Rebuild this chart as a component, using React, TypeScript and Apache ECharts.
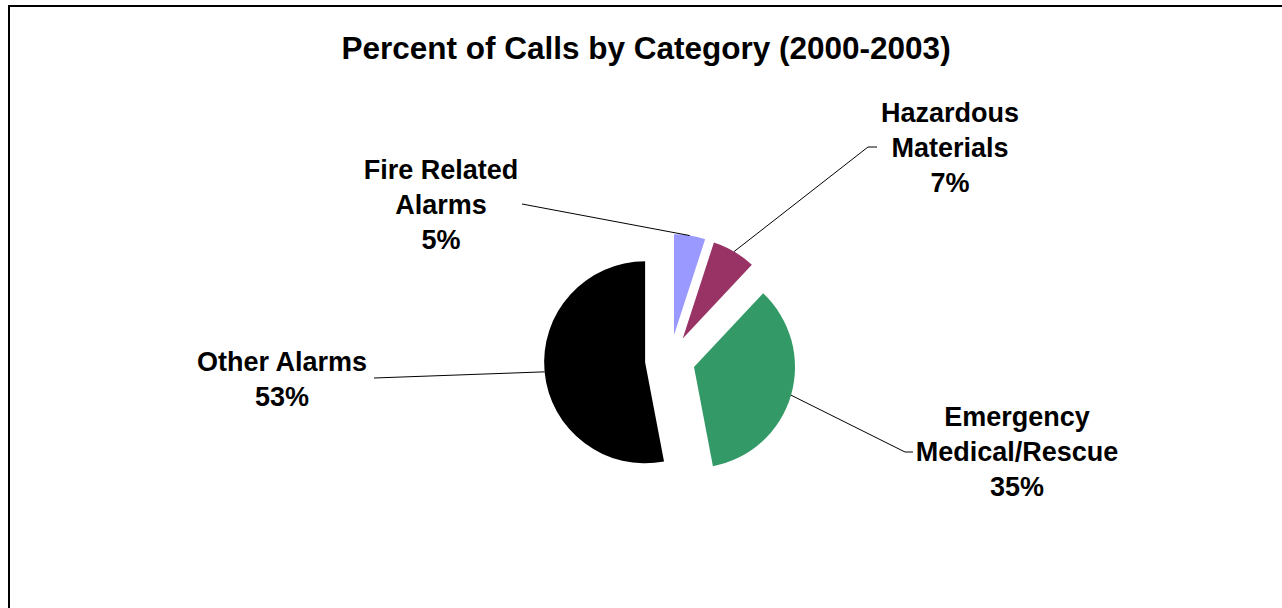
import React, { useEffect, useRef } from "react";
import * as echarts from "echarts";

const categories = ["Fire Related Alarms", "Hazardous Materials", "Emergency Medical/Rescue", "Other Alarms"];
const wrappedNames = ["Fire Related\nAlarms", "Hazardous\nMaterials", "Emergency\nMedical/Rescue", "Other Alarms"];
const values = [5, 7, 35, 53];
const colors = ["#9999FF", "#993366", "#339966", "#000000"];
const titleText = "Percent of Calls by Category (2000-2003)";

// layout (pixels)
const CX = 670;
const CY = 360;
const R = 101;
const OFFSET = 25;
const FONT = "'Liberation Sans', Arial, sans-serif";
const labelCenters = [
  [441, 205],
  [950, 148],
  [1017, 452],
  [282, 379],
];
const lineEnds = [
  [[522, 204]],
  [[868, 147], [877, 147]],
  [[905, 452], [913, 452]],
  [[374, 378]],
];

const total = values.reduce((a, b) => a + b, 0);
const cumBefore = values.map((_, i) => values.slice(0, i).reduce((a, b) => a + b, 0));

function renderItem(params: any, api: any) {
  const i = params.dataIndex;
  const v = api.value(0);
  const start = -Math.PI / 2 + (cumBefore[i] / total) * Math.PI * 2;
  const end = start + (v / total) * Math.PI * 2;
  const mid = (start + end) / 2;
  const cx = CX + OFFSET * Math.cos(mid);
  const cy = CY + OFFSET * Math.sin(mid);
  const ax = cx + R * Math.cos(mid);
  const ay = cy + R * Math.sin(mid);
  const pct = Math.round((v / total) * 100);
  return {
    type: "group",
    children: [
      {
        type: "sector",
        shape: { cx, cy, r: R, r0: 0, startAngle: start, endAngle: end, clockwise: true },
        style: { fill: colors[i], stroke: "none" },
      },
      {
        type: "polyline",
        shape: { points: [[ax, ay], ...lineEnds[i]] },
        style: { stroke: "#000", lineWidth: 1, fill: "none" },
      },
      {
        type: "text",
        x: labelCenters[i][0],
        y: labelCenters[i][1],
        style: {
          text: `${wrappedNames[i]}\n${pct}%`,
          fill: "#000",
          fontFamily: FONT,
          fontWeight: "bold",
          fontSize: 27,
          lineHeight: 35,
          align: "center",
          verticalAlign: "middle",
        },
      },
    ],
  };
}

export default function App() {
  const ref = useRef<HTMLDivElement>(null);
  useEffect(() => {
    const chart = echarts.init(ref.current!, undefined, { renderer: "svg" });
    chart.setOption({
      animation: false,
      backgroundColor: "#ffffff",
      title: {
        text: titleText,
        left: 641,
        top: 27,
        textAlign: "center",
        textStyle: {
          fontFamily: FONT,
          fontWeight: "bold",
          fontSize: 31.5,
          color: "#000",
        },
      },
      graphic: [
        {
          type: "rect",
          shape: { x: 9, y: 6, width: 1300, height: 700 },
          style: { fill: "none", stroke: "#000", lineWidth: 2 },
          silent: true,
          z: 100,
        },
      ],
      series: [
        {
          type: "custom",
          coordinateSystem: "none",
          renderItem,
          data: values.map((v, i) => ({ name: categories[i], value: [v] })),
        },
      ],
    });
    return () => chart.dispose();
  }, []);
  return (
    <div
      ref={ref}
      style={{ position: "absolute", left: 0, top: 0, width: 1282, height: 608 }}
    />
  );
}
